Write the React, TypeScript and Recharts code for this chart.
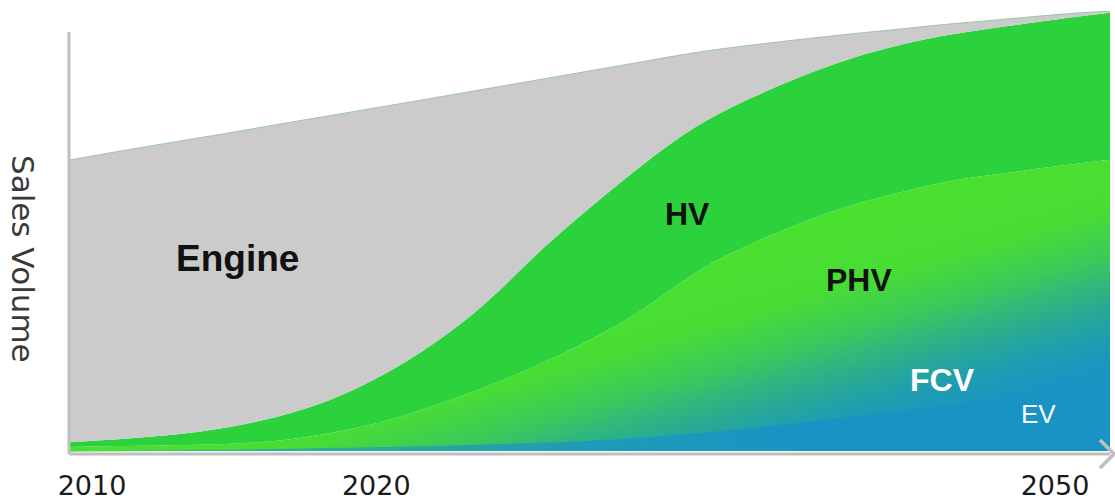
import { AreaChart, Area, XAxis, YAxis, ReferenceLine } from "recharts";

const years = [2010, 2012, 2014, 2016, 2018, 2020, 2022, 2024, 2026, 2028, 2030, 2032, 2034, 2036, 2038, 2040, 2042, 2044, 2046, 2048, 2050];
const ev = [0, 0.1, 0.2, 0.3, 0.5, 0.7, 0.9, 1.1, 1.5, 1.8, 2.3, 3.0, 3.9, 5.0, 6.4, 7.7, 9.1, 10.5, 11.8, 13.2, 14.6];
const fcv = [0.2, 0.1, 0.1, 0.1, 0.2, 0.2, 0.2, 0.5, 0.8, 1.4, 2.3, 3.6, 5.5, 7.5, 9.8, 12.5, 15.7, 18.9, 22.0, 24.8, 27.0];
const phv = [0.7, 0.9, 1.0, 1.1, 1.4, 3.0, 5.2, 8.6, 12.1, 16.1, 20.5, 25.0, 31.4, 34.1, 35.5, 35.7, 34.1, 32.3, 29.3, 26.8, 24.6];
const hv = [1.1, 1.6, 2.3, 3.6, 5.5, 7.3, 10.5, 13.9, 18.6, 25.9, 30.2, 33.4, 33.0, 33.2, 33.2, 33.4, 33.6, 33.2, 33.4, 33.4, 33.4];
const engine = [64.1, 65.5, 66.6, 67.0, 66.6, 65.0, 61.4, 56.1, 49.3, 39.1, 31.1, 23.4, 16.8, 12.3, 8.6, 5.5, 3.4, 2.3, 1.6, 1.1, 0.4];

const xTicks = [2010, 2020, 2050];
// the slide places its year labels by hand, not on a linear scale
const tickShift: Record<number, number> = { 2010: 23, 2020: 47, 2050: -44 };

const data = years.map((year, i) => ({
  year,
  ev: ev[i],
  fcv: fcv[i],
  phv: phv[i],
  hv: hv[i],
  engine: engine[i],
}));

const axisGray = "#bfbfbf";

function YearTick(props: any) {
  const { x, y, payload } = props;
  return (
    <text
      x={x + (tickShift[payload.value] ?? 0)}
      y={y + 33}
      textAnchor="middle"
      fontFamily="'DejaVu Sans', sans-serif"
      fontSize={27}
      fill="#1a1a1a"
    >
      {payload.value}
    </text>
  );
}

const bold = {
  position: "absolute" as const,
  fontFamily: "'Liberation Sans', Arial, sans-serif",
  fontWeight: 700,
  lineHeight: 1,
  whiteSpace: "nowrap" as const,
};

export default function App() {
  return (
    <div style={{ position: "absolute", left: 0, top: 0, width: 1115, height: 500, background: "#fff" }}>
      <AreaChart width={1115} height={500} data={data} margin={{ top: 11, right: 5, bottom: 16, left: 69 }}>
        <defs>
          {/* green to blue wash that runs across the PHV / FCV layers */}
          <linearGradient id="greenBlue" gradientUnits="userSpaceOnUse" x1="839" y1="193" x2="939" y2="538">
            <stop offset="0%" stopColor="#4be12e" />
            <stop offset="25%" stopColor="#48dd34" />
            <stop offset="37%" stopColor="#3ccb58" />
            <stop offset="45%" stopColor="#30b77c" />
            <stop offset="52%" stopColor="#27a898" />
            <stop offset="60%" stopColor="#1e9cb3" />
            <stop offset="68%" stopColor="#1a94c2" />
            <stop offset="100%" stopColor="#1992c4" />
          </linearGradient>
          <linearGradient id="evFill" x1="0" y1="0" x2="1" y2="0">
            <stop offset="0%" stopColor="#34c27a" />
            <stop offset="30%" stopColor="#27ab9a" />
            <stop offset="50%" stopColor="#1d9bb8" />
            <stop offset="70%" stopColor="#1993c4" />
            <stop offset="100%" stopColor="#1992c4" />
          </linearGradient>
          <marker id="arrowHead" markerUnits="userSpaceOnUse" markerWidth="24" markerHeight="36" refX="12" refY="18" orient="auto">
            <path d="M2 4 L16 18 L2 32" fill="none" stroke={axisGray} strokeWidth={3.5} />
          </marker>
        </defs>
        <XAxis
          dataKey="year"
          type="number"
          domain={[2010, 2050]}
          ticks={xTicks}
          tickLine={false}
          tick={<YearTick />}
          axisLine={{ stroke: axisGray, strokeWidth: 3, markerEnd: "url(#arrowHead)" }}
        />
        <YAxis hide type="number" domain={[-0.7, 100]} allowDataOverflow />
        <Area type="basis" dataKey="ev" stackId="1" stroke="url(#evFill)" strokeWidth={1.5} fill="url(#evFill)" fillOpacity={1} isAnimationActive={false} activeDot={false} />
        <Area type="basis" dataKey="fcv" stackId="1" stroke="url(#greenBlue)" strokeWidth={1.5} fill="url(#greenBlue)" fillOpacity={1} isAnimationActive={false} activeDot={false} />
        <Area type="basis" dataKey="phv" stackId="1" stroke="none" fill="url(#greenBlue)" fillOpacity={1} isAnimationActive={false} activeDot={false} />
        <Area type="basis" dataKey="hv" stackId="1" stroke="none" fill="#2bd23b" fillOpacity={1} isAnimationActive={false} activeDot={false} />
        <Area type="basis" dataKey="engine" stackId="1" stroke="#9cc79c" strokeWidth={1} fill="#cbcbcb" fillOpacity={1} isAnimationActive={false} activeDot={false} />
        <ReferenceLine
          segment={[{ x: 2010, y: -0.7 }, { x: 2010, y: 95.2 }]}
          stroke={axisGray}
          strokeWidth={3}
          ifOverflow="visible"
        />
      </AreaChart>

      <div
        style={{
          position: "absolute",
          left: 7,
          top: 155,
          writingMode: "vertical-rl",
          fontFamily: "'DejaVu Sans', sans-serif",
          fontSize: 31,
          lineHeight: 1,
          color: "#3a3a3a",
          whiteSpace: "nowrap",
        }}
      >
        Sales Volume
      </div>
      <div style={{ ...bold, left: 176, top: 240, fontSize: 37, color: "#111" }}>Engine</div>
      <div style={{ ...bold, left: 665, top: 198, fontSize: 32, color: "#111" }}>HV</div>
      <div style={{ ...bold, left: 826, top: 264, fontSize: 32, color: "#111" }}>PHV</div>
      <div style={{ ...bold, left: 910, top: 364, fontSize: 32, color: "#fff" }}>FCV</div>
      <div style={{ ...bold, fontWeight: 400, left: 1021, top: 401, fontSize: 26, color: "#fff" }}>EV</div>
    </div>
  );
}
